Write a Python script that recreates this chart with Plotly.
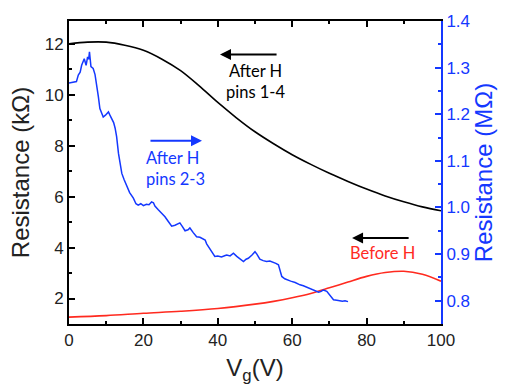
import plotly.graph_objects as go

# Black: After H, pins 1-4 (left axis, kOhm)
black_v = [0, 5, 10, 15, 20, 25, 30, 35, 40, 45, 50, 55, 60, 65, 70, 75, 80, 85, 90, 95, 100]
black_r = [12.0, 12.07, 12.07, 11.95, 11.75, 11.4, 10.95, 10.35, 9.7, 9.1, 8.55, 8.08, 7.65, 7.27, 6.92, 6.6, 6.3, 6.03, 5.8, 5.6, 5.45]

# Red: Before H (left axis, kOhm)
red_v = [0, 10, 20, 30, 40, 50, 55, 60, 65, 70, 75, 80, 85, 90, 95, 100]
red_r = [1.27, 1.33, 1.42, 1.50, 1.61, 1.78, 1.89, 2.03, 2.20, 2.42, 2.65, 2.87, 3.02, 3.07, 2.95, 2.68]

# Blue: After H, pins 2-3 (right axis, MOhm)
blue_v = [0, 1, 2, 2.5, 3.0, 3.4, 4.1, 4.6, 5.0, 5.3, 5.5, 5.9, 6.5, 7.0, 7.4, 7.9, 8.3, 8.8, 9.2, 9.8,
          10.6, 11.0, 11.5, 12.0, 12.4, 12.8, 13.3, 13.8, 14.2, 14.8, 15.5, 16.3, 17.3, 18.0, 18.6, 19.3,
          20.0, 20.8, 21.5, 22.2, 22.7, 23.1, 24.0, 24.9, 25.8, 26.7, 27.6, 28.5, 29.3, 29.8, 30.4, 31.2,
          32.0, 32.5, 33.4, 34.3, 35.2, 36.1, 36.6, 37.0, 37.8, 38.4, 39.2, 40.0, 41.0, 42.0, 42.4, 43.3,
          44.2, 45.1, 46.0, 46.9, 47.6, 48.2, 49.2, 50.0, 50.5, 51.3, 52.2, 53.1, 54.0, 54.9, 55.6, 56.3,
          56.8, 57.2, 58.0, 58.5, 59.6, 60.8, 61.5, 62.1, 63.0, 63.9, 64.8, 65.7, 66.6, 67.1, 67.8, 68.4,
          69.3, 70.2, 71.1, 72.0, 72.8, 73.5, 74.2, 75.0]
blue_r = [1.267, 1.268, 1.270, 1.284, 1.290, 1.305, 1.319, 1.305, 1.323, 1.318, 1.334, 1.302, 1.298, 1.285, 1.266, 1.237, 1.212, 1.200, 1.194, 1.198,
          1.205, 1.198, 1.191, 1.182, 1.170, 1.152, 1.116, 1.095, 1.073, 1.060, 1.045, 1.032, 1.020, 1.008, 1.005, 1.008,
          1.004, 1.007, 1.006, 1.012, 1.010, 1.003, 0.995, 0.988, 0.980, 0.970, 0.960, 0.962, 0.966, 0.967, 0.960, 0.950,
          0.952, 0.956, 0.946, 0.937, 0.936, 0.932, 0.930, 0.922, 0.912, 0.903, 0.895, 0.896, 0.894, 0.897, 0.898, 0.896,
          0.902, 0.895, 0.890, 0.884, 0.889, 0.891, 0.898, 0.905, 0.900, 0.889, 0.886, 0.884, 0.885, 0.883, 0.880, 0.877,
          0.865, 0.852, 0.847, 0.845, 0.842, 0.839, 0.836, 0.834, 0.832, 0.829, 0.826, 0.823, 0.820, 0.818, 0.820, 0.823,
          0.820, 0.810, 0.802, 0.801, 0.800, 0.799, 0.800, 0.798]

BLUE = "#1438FF"
RED = "#FF2A1F"
FONT = "Liberation Sans, Arial, sans-serif"
LABEL_FONT = "Lato, sans-serif"

fig = go.Figure()
fig.add_trace(go.Scatter(x=black_v, y=black_r, mode="lines", line=dict(color="black", width=1.6, shape="spline"),
                         yaxis="y", showlegend=False))
fig.add_trace(go.Scatter(x=red_v, y=red_r, mode="lines", line=dict(color=RED, width=1.6, shape="spline"),
                         yaxis="y", showlegend=False))
fig.add_trace(go.Scatter(x=blue_v, y=blue_r, mode="lines", line=dict(color=BLUE, width=1.5),
                         yaxis="y2", showlegend=False))

axis_common = dict(showgrid=False, zeroline=False, ticks="inside", ticklen=6, tickwidth=1.5,
                   showline=True, linewidth=2)

fig.update_layout(
    width=505, height=390,
    margin=dict(l=69, r=64, t=21, b=66),
    paper_bgcolor="white", plot_bgcolor="white",
    font=dict(family=FONT, size=17, color="#222"),
    xaxis=dict(range=[0, 100], dtick=20, tick0=0, linecolor="black", tickcolor="black", mirror="ticks",
               minor=dict(dtick=10, ticks="inside", ticklen=3, tickcolor="black"),
               title=dict(text="V<sub>g</sub>(V)", font=dict(size=24, color="#222"), standoff=10),
               **axis_common),
    yaxis=dict(range=[1, 12.9], dtick=2, tick0=0, linecolor="black", tickcolor="black",
               minor=dict(dtick=1, ticks="inside", ticklen=3, tickcolor="black"),
               title=dict(text="Resistance (kΩ)", font=dict(size=24, color="#222"), standoff=8),
               **axis_common),
    yaxis2=dict(range=[0.75, 1.4], dtick=0.1, tick0=0, tickformat=".1f", overlaying="y", side="right",
                linecolor=BLUE, tickcolor=BLUE, tickfont=dict(color=BLUE),
                minor=dict(dtick=0.05, ticks="inside", ticklen=3, tickcolor=BLUE),
                title=dict(text="Resistance (MΩ)", font=dict(size=24, color=BLUE), standoff=6),
                **axis_common),
)

# Arrows
arrows = [
    (40.6, 11.58, 56.2, 11.58, "black"),
    (35.75, 8.20, 21.5, 8.20, BLUE),
    (76.1, 4.38, 91.7, 4.38, "black"),
]
for x, y, ax, ay, c in arrows:
    fig.add_annotation(x=x, y=y, ax=ax, ay=ay, xref="x", yref="y", axref="x", ayref="y",
                       text="", showarrow=True, arrowhead=2, arrowsize=1.1, arrowwidth=2, arrowcolor=c)

fig.add_annotation(x=50, y=10.52, xref="x", yref="y", text="After H<br>pins 1-4", showarrow=False,
                   font=dict(family=LABEL_FONT, size=16.5, color="black"), align="center")
fig.add_annotation(x=20.2, y=7.12, xref="x", yref="y", text="After H<br>pins 2-3", showarrow=False,
                   xanchor="left", font=dict(family=LABEL_FONT, size=16.5, color=BLUE), align="left")
fig.add_annotation(x=84.4, y=3.79, xref="x", yref="y", text="Before H", showarrow=False,
                   font=dict(family=LABEL_FONT, size=16.5, color=RED), align="center")

fig.write_html("out.html")
